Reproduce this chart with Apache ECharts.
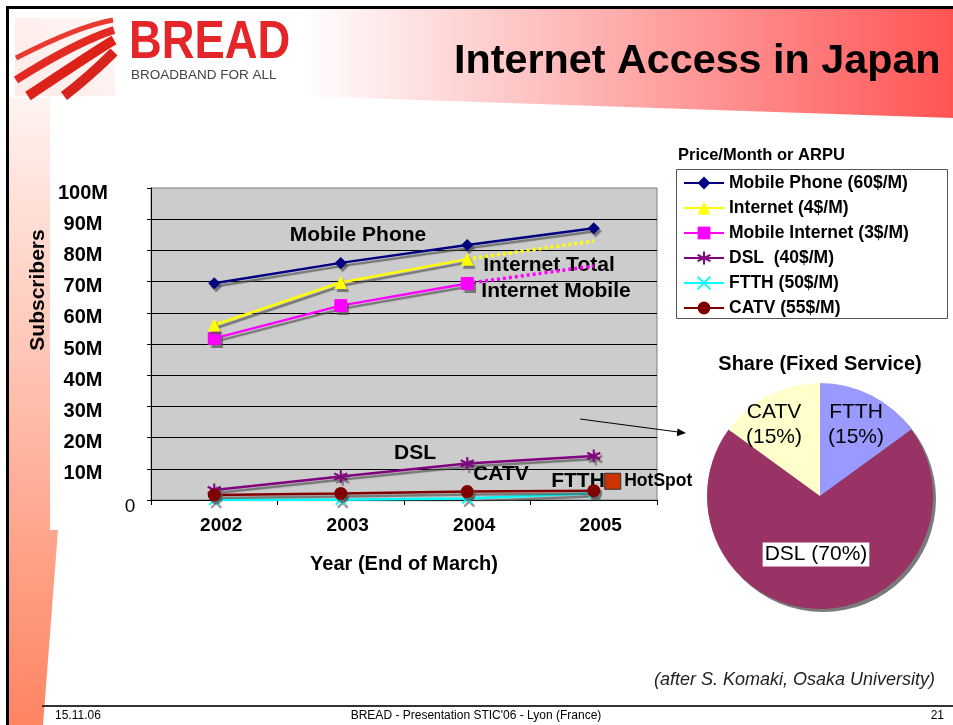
<!DOCTYPE html>
<html>
<head>
<meta charset="utf-8">
<script src="https://cdn.jsdelivr.net/npm/echarts@6/dist/echarts.min.js"></script>
<style>
  html, body { margin: 0; padding: 0; background: #ffffff; }
  #main { width: 953px; height: 725px; }
</style>
</head>
<body>
<div id="main"></div>
<script>
// ---- Data (millions of subscribers, end of March) ----
const years = ['2002', '2003', '2004', '2005'];
const mobilePhone = [69.5, 76.0, 81.7, 87.1];
const internetTotal = [56.1, 69.7, 77.2, null];
const internetTotalTrend = [null, null, 77.2, 83.0];
const mobileInternet = [51.8, 62.3, 69.4, null];
const mobileInternetTrend = [null, null, 69.4, 75.0];
const dsl = [3.2, 7.5, 11.7, 14.1];
const ftth = [0.05, 0.1, 0.5, 2.2];
const catv = [1.6, 2.1, 2.7, 3.0];
const hotSpot = [[3.15, 6.0]];            // [position along years, value]
const yTickLabels = ['0', '10M', '20M', '30M', '40M', '50M', '60M', '70M', '80M', '90M', '100M'];
const legendNames = ['Mobile Phone (60$/M)', 'Internet (4$/M)', 'Mobile Internet (3$/M)',
                     'DSL  (40$/M)', 'FTTH (50$/M)', 'CATV (55$/M)'];
const shareNames = ['FTTH', 'DSL', 'CATV'];
const shareValues = [15, 70, 15];

const FONT = "'Liberation Sans', Arial, Helvetica, sans-serif";
const SHADOW = { shadowColor: 'rgba(80,80,80,0.7)', shadowBlur: 1, shadowOffsetX: 2, shadowOffsetY: 3 };
const ASTERISK = 'path://M0,-10L0,10M-8.66,-5L8.66,5M-8.66,5L8.66,-5';
const CROSS = 'path://M-6,-6L6,6M-6,6L6,-6';

function mainLine(name, data, color, symbol, size, strokeSymbol) {
  return {
    type: 'line', name: name, data: data, z: 3,
    symbol: symbol, symbolSize: size, connectNulls: false,
    lineStyle: Object.assign({ color: color, width: 2.5 }, SHADOW),
    itemStyle: Object.assign({
      color: strokeSymbol ? 'rgba(0,0,0,0)' : color,
      borderColor: color, borderWidth: strokeSymbol ? 2 : 0
    }, SHADOW),
    emphasis: { disabled: true }
  };
}
function trendLine(name, data, color) {
  return {
    type: 'line', name: name, data: data, z: 3, symbol: 'none',
    lineStyle: { color: color, width: 3.5, type: [3, 3] },
    emphasis: { disabled: true }
  };
}

const chart = echarts.init(document.getElementById('main'), null, { renderer: 'canvas' });

// labels written next to the curves
const notes = [
  ['Mobile Phone', 358, 235], ['Internet Total', 549, 265], ['Internet Mobile', 556, 291],
  ['DSL', 415, 453], ['CATV', 501, 474], ['FTTH', 578, 481]
];

const arrowTip = [686, 433];

const option = {
  animation: false,
  textStyle: { fontFamily: FONT },
  grid: {
    left: 151, top: 188, width: 506, height: 312,
    show: true, backgroundColor: '#cccccc', borderColor: '#808080', borderWidth: 1, z: 0
  },
  xAxis: [{
    type: 'category', data: years, boundaryGap: true,
    axisLine: { lineStyle: { color: '#000', width: 1 } },
    axisTick: { show: true, length: 5, lineStyle: { color: '#000' } },
    axisLabel: { color: '#000', fontWeight: 'bold', fontSize: 19, fontFamily: FONT, margin: 16, padding: [0, 0, 0, 14] },
    name: 'Year (End of March)', nameLocation: 'middle', nameGap: 54,
    nameTextStyle: { color: '#000', fontWeight: 'bold', fontSize: 20, fontFamily: FONT },
    splitLine: { show: false }
  }, {
    type: 'value', min: -0.5, max: 3.5, show: false
  }],
  yAxis: {
    type: 'value', min: 0, max: 100, interval: 10, z: 2,
    axisLine: { show: true, onZero: false, lineStyle: { color: '#000', width: 1 } },
    axisTick: { show: true, length: 4, lineStyle: { color: '#000' } },
    splitLine: { show: true, showMinLine: false, showMaxLine: false, lineStyle: { color: '#000', width: 1 } },
    axisLabel: {
      margin: 68, align: 'center', color: '#000',
      formatter: function (v) {
        const t = yTickLabels[Math.round(v / 10)];
        return v === 0 ? '{z|' + t + '}' : '{t|' + t + '}';
      },
      rich: {
        t: { fontFamily: FONT, fontWeight: 'bold', fontSize: 20, color: '#000', padding: [10, 0, 0, 0] },
        z: { fontFamily: FONT, fontWeight: 'normal', fontSize: 19, color: '#000', padding: [14, 0, 0, 94] }
      }
    }
  },
  legend: {
    data: legendNames, orient: 'vertical', left: 683, top: 174, padding: 0,
    itemWidth: 40, itemHeight: 16, itemGap: 7, selectedMode: false,
    textStyle: { fontFamily: FONT, fontWeight: 'bold', fontSize: 17.5, color: '#000', lineHeight: 18 },
    itemStyle: { shadowColor: 'rgba(0,0,0,0)', shadowBlur: 0, shadowOffsetX: 0, shadowOffsetY: 0 },
    lineStyle: { shadowColor: 'rgba(0,0,0,0)', shadowBlur: 0, shadowOffsetX: 0, shadowOffsetY: 0 },
    z: 6
  },
  series: [
    mainLine(legendNames[4], ftth, '#00ffff', CROSS, 10, true),
    mainLine(legendNames[3], dsl, '#800080', ASTERISK, 13, true),
    mainLine(legendNames[5], catv, '#800000', 'circle', 13, false),
    trendLine('Mobile Internet trend', mobileInternetTrend, '#ff00ff'),
    trendLine('Internet trend', internetTotalTrend, '#ffff00'),
    mainLine(legendNames[2], mobileInternet, '#ff00ff', 'rect', 13, false),
    mainLine(legendNames[1], internetTotal, '#ffff00', 'triangle', 13, false),
    mainLine(legendNames[0], mobilePhone, '#000080', 'diamond', 12, false),
    {
      type: 'scatter', name: 'HotSpot', xAxisIndex: 1, data: hotSpot, z: 4,
      symbol: 'rect', symbolSize: 16,
      itemStyle: { color: '#cc3300', borderColor: '#333333', borderWidth: 1, opacity: 1 },
      label: {
        show: true, position: 'right', distance: 3, formatter: 'HotSpot',
        fontFamily: FONT, fontWeight: 'bold', fontSize: 17.5, color: '#000'
      },
      emphasis: { disabled: true }
    },
    // pie shadow
    {
      type: 'pie', center: [823, 499], radius: 113, silent: true, z: 1,
      data: [{ value: 1, itemStyle: { color: '#7a7a7a' } }],
      label: { show: false }, labelLine: { show: false }, emphasis: { disabled: true }
    },
    {
      type: 'pie', center: [820, 496], radius: 113, startAngle: 90, clockwise: true, z: 2,
      silent: true,
      data: shareNames.map(function (n, i) {
        const colors = ['#9999ff', '#993366', '#ffffcc'];
        const d = { name: n, value: shareValues[i], itemStyle: { color: colors[i] } };
        if (n === 'DSL') {
          d.label = { backgroundColor: '#ffffff', padding: [2, 2, 0, 2], lineHeight: 22 };
        }
        return d;
      }),
      label: {
        show: true, position: 'inside', fontFamily: FONT, fontSize: 21, color: '#000',
        lineHeight: 25,
        formatter: function (p) {
          return p.name === 'DSL' ? p.name + ' (' + p.percent + '%)' : p.name + '\n(' + p.percent + '%)';
        }
      },
      labelLayout: function (params) {
        const off = [[9, -18], [-4, -1], [-19, -18]][params.dataIndex];
        return { dx: off[0], dy: off[1] };
      },
      labelLine: { show: false },
      emphasis: { disabled: true }
    }
  ],
  graphic: [
    // slide decorations
    { type: 'polygon', z: -10, silent: true,
      shape: { points: [[300, 9], [953, 9], [953, 118], [300, 96]] },
      style: { fill: new echarts.graphic.LinearGradient(0, 0, 1, 0, [
        { offset: 0, color: '#ffffff' }, { offset: 1, color: '#ff5454' }]) } },
    { type: 'polygon', z: -10, silent: true,
      shape: { points: [[9, 98], [50, 98], [50, 140], [58, 140], [58, 530], [43, 725], [9, 725]] },
      style: { fill: new echarts.graphic.LinearGradient(0, 0, 0, 1, [
        { offset: 0, color: '#fff3f0' }, { offset: 1, color: '#ff8462' }]) } },
    { type: 'rect', z: -9, silent: true, shape: { x: 50, y: 122, width: 615, height: 408 }, style: { fill: '#ffffff' } },
    { type: 'rect', z: -8, silent: true, shape: { x: 6, y: 6, width: 3, height: 719 }, style: { fill: '#000' } },
    { type: 'rect', z: -8, silent: true, shape: { x: 6, y: 6, width: 947, height: 3 }, style: { fill: '#000' } },
    // logo mark
    { type: 'rect', z: -7, silent: true, shape: { x: 15, y: 18, width: 100, height: 78 },
      style: { fill: new echarts.graphic.LinearGradient(0, 1, 1, 0, [
        { offset: 0, color: '#ffe9e6' }, { offset: 1, color: '#fff8f6' }]) } },
    { type: 'bezierCurve', z: -6, silent: true, shape: { x1: 16, y1: 58, x2: 113, y2: 20, cpx1: 55, cpy1: 38, cpx2: 90, cpy2: 24 },
      style: { stroke: '#e83a30', lineWidth: 5, fill: null } },
    { type: 'bezierCurve', z: -6, silent: true, shape: { x1: 16, y1: 80, x2: 114, y2: 30, cpx1: 60, cpy1: 52, cpx2: 95, cpy2: 36 },
      style: { stroke: '#e32a22', lineWidth: 8, fill: null } },
    { type: 'bezierCurve', z: -6, silent: true, shape: { x1: 28, y1: 96, x2: 114, y2: 40, cpx1: 70, cpy1: 68, cpx2: 100, cpy2: 48 },
      style: { stroke: '#dd2018', lineWidth: 10, fill: null } },
    { type: 'bezierCurve', z: -6, silent: true, shape: { x1: 64, y1: 96, x2: 114, y2: 52, cpx1: 90, cpy1: 76, cpx2: 106, cpy2: 60 },
      style: { stroke: '#d8241c', lineWidth: 10, fill: null } },
    { type: 'text', z: -6, silent: true, x: 129, y: 43, scaleX: 0.84,
      style: { text: 'BREAD', fontFamily: FONT, fontWeight: 'bold', fontSize: 54, fill: '#e4262a', verticalAlign: 'middle', align: 'left' } },
    { type: 'text', z: -6, silent: true, x: 131, y: 75,
      style: { text: 'BROADBAND FOR ALL', fontFamily: FONT, fontSize: 13.5, fill: '#444444', verticalAlign: 'middle', align: 'left' } },
    // slide title
    { type: 'text', z: 5, silent: true, x: 454, y: 62,
      style: { text: 'Internet Access in Japan', fontFamily: FONT, fontWeight: 'bold', fontSize: 41.3, fill: '#000', verticalAlign: 'middle', align: 'left' } },
    // axis title
    { type: 'text', z: 5, silent: true, x: 38, y: 290, rotation: Math.PI / 2,
      style: { text: 'Subscribers', fontFamily: FONT, fontWeight: 'bold', fontSize: 21, fill: '#000', verticalAlign: 'middle', align: 'center' } },
    // curve notes
    ...notes.map(function (n) {
      return { type: 'text', z: 1, silent: true, x: n[1], y: n[2],
        style: { text: n[0], fontFamily: FONT, fontWeight: 'bold', fontSize: 21, fill: '#000', align: 'center', verticalAlign: 'middle' } };
    }),
    // arrow to the share chart
    { type: 'line', z: 5, silent: true, shape: { x1: 580, y1: 419, x2: 681, y2: 432.4 }, style: { stroke: '#000', lineWidth: 1 } },
    { type: 'polygon', z: 5, silent: true, shape: { points: [arrowTip, [677.5, 428.4], [676.8, 436.2]] }, style: { fill: '#000' } },
    // legend frame and heading
    { type: 'rect', z: 2, silent: true, shape: { x: 676.5, y: 169.5, width: 271, height: 149 },
      style: { fill: '#ffffff', stroke: '#555555', lineWidth: 1 } },
    { type: 'text', z: 5, silent: true, x: 678, y: 155,
      style: { text: 'Price/Month or ARPU', fontFamily: FONT, fontWeight: 'bold', fontSize: 16.5, fill: '#000', verticalAlign: 'middle', align: 'left' } },
    // share chart heading
    { type: 'text', z: 5, silent: true, x: 820, y: 364,
      style: { text: 'Share (Fixed Service)', fontFamily: FONT, fontWeight: 'bold', fontSize: 20, fill: '#000', verticalAlign: 'middle', align: 'center' } },
    // source note and footer
    { type: 'text', z: 5, silent: true, x: 935, y: 680,
      style: { text: '(after S. Komaki, Osaka University)', fontFamily: FONT, fontStyle: 'italic', fontSize: 18, fill: '#222', verticalAlign: 'middle', align: 'right' } },
    { type: 'line', z: 5, silent: true, shape: { x1: 42, y1: 706, x2: 953, y2: 706 }, style: { stroke: '#333', lineWidth: 2 } },
    { type: 'text', z: 5, silent: true, x: 55, y: 716,
      style: { text: '15.11.06', fontFamily: FONT, fontSize: 12, fill: '#000', verticalAlign: 'middle', align: 'left' } },
    { type: 'text', z: 5, silent: true, x: 476, y: 716,
      style: { text: "BREAD - Presentation STIC'06 - Lyon (France)", fontFamily: FONT, fontSize: 12, fill: '#000', verticalAlign: 'middle', align: 'center' } },
    { type: 'text', z: 5, silent: true, x: 944, y: 716,
      style: { text: '21', fontFamily: FONT, fontSize: 12, fill: '#000', verticalAlign: 'middle', align: 'right' } }
  ]
};

chart.setOption(option);
</script>
</body>
</html>
